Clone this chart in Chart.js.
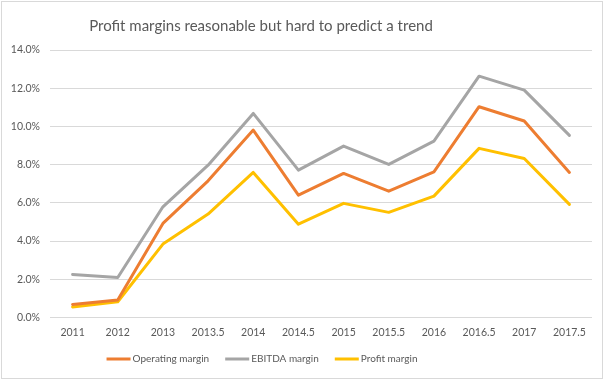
<!DOCTYPE html>
<html>
<head>
<meta charset="utf-8">
<script src="https://cdn.jsdelivr.net/npm/chart.js@4"></script>
<style>
  html, body { margin: 0; padding: 0; background: #ffffff; }
  #wrap { position: absolute; left: 1px; top: 1px; width: 600px; height: 376px; border: 1px solid #d9d9d9; background: #fff; }
  canvas { display: block; }
</style>
</head>
<body>
<div id="wrap"><canvas id="c" width="600" height="376"></canvas></div>
<script>
const categories = ['2011','2012','2013','2013.5','2014','2014.5','2015','2015.5','2016','2016.5','2017','2017.5'];
const operatingMargin = [0.68, 0.91, 4.92, 7.15, 9.81, 6.40, 7.54, 6.61, 7.62, 11.03, 10.28, 7.59];
const ebitdaMargin = [2.25, 2.09, 5.79, 7.97, 10.68, 7.71, 8.97, 8.01, 9.23, 12.63, 11.90, 9.53];
const profitMargin = [0.55, 0.82, 3.84, 5.41, 7.59, 4.88, 5.97, 5.50, 6.35, 8.85, 8.32, 5.92];
const yTicks = [0, 2, 4, 6, 8, 10, 12, 14];
const titleText = 'Profit margins reasonable but hard to predict a trend';

const font = "Lato, 'Open Sans', sans-serif";
const txt = '#595959';

function ds(label, data, color) {
  return { label, data, borderColor: color, backgroundColor: color, borderWidth: 3,
    pointRadius: 0, pointHoverRadius: 0, tension: 0, fill: false, borderJoinStyle: 'round', borderCapStyle: 'round' };
}

// Excel-style title and legend, centred slightly left of the canvas centre
const decorPlugin = {
  id: 'excelDecor',
  afterDraw(chart) {
    const ctx = chart.ctx;
    ctx.save();
    ctx.fillStyle = txt;
    ctx.font = "15px " + font;
    ctx.textAlign = 'center';
    ctx.textBaseline = 'middle';
    ctx.fillText(titleText, 259, 24);

    // legend
    ctx.font = "10px " + font;
    ctx.textAlign = 'left';
    const lineW = 24, gapText = 2, gapItem = 16;
    const items = chart.data.datasets.map(d => ({ text: d.label, color: d.borderColor, w: ctx.measureText(d.label).width }));
    const total = items.reduce((s, it) => s + lineW + gapText + it.w, 0) + gapItem * (items.length - 1);
    let x = 260 - total / 2;
    const y = 357;
    items.forEach(it => {
      ctx.fillStyle = it.color;
      ctx.fillRect(x, y - 1.5, lineW, 3);
      x += lineW + gapText;
      ctx.fillStyle = txt;
      ctx.fillText(it.text, x, y);
      x += it.w + gapItem;
    });
    ctx.restore();
  }
};

new Chart(document.getElementById('c'), {
  type: 'line',
  data: {
    labels: categories,
    datasets: [
      ds('Operating margin', operatingMargin, '#ED7D31'),
      ds('EBITDA margin', ebitdaMargin, '#A5A5A5'),
      ds('Profit margin', profitMargin, '#FFC000')
    ]
  },
  plugins: [decorPlugin],
  options: {
    responsive: false,
    animation: false,
    devicePixelRatio: 1,
    layout: { padding: { left: 0, right: 10, top: 48, bottom: 30 } },
    plugins: {
      title: { display: false },
      legend: { display: false },
      tooltip: { enabled: false }
    },
    scales: {
      x: { offset: true, grid: { display: false, drawTicks: false }, border: { display: false },
        ticks: { color: txt, font: { family: font, size: 10.5 }, maxRotation: 0, autoSkip: false, padding: 9 } },
      y: { min: 0, max: 14, afterBuildTicks: (s) => { s.ticks = yTicks.map(v => ({ value: v })); },
        afterFit: (s) => { s.width = 48; },
        grid: { color: '#D9D9D9', lineWidth: 1, drawTicks: false }, border: { display: false },
        ticks: { color: txt, font: { family: font, size: 10.5 }, padding: 10,
          callback: (v) => Number(v).toFixed(1) + '%' } }
    }
  }
});
</script>
</body>
</html>
